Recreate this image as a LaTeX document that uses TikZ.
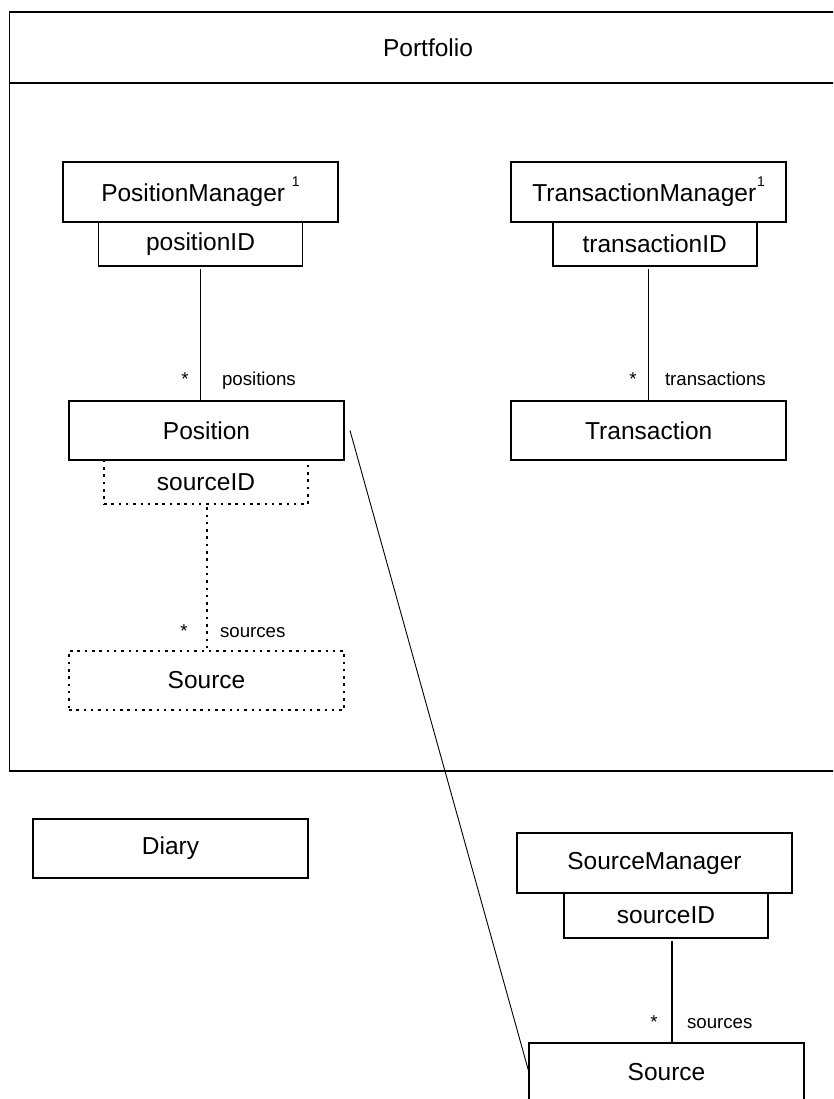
\documentclass[tikz,border=0pt]{standalone}
\usepackage{fontspec}
\setmainfont{Liberation Sans}
\begin{document}
\begin{tikzpicture}[x=1pt,y=-1pt,
  every node/.style={inner sep=0pt, outer sep=0pt},
  box/.style={draw, line width=1.8pt, minimum width=275pt, minimum height=59.5pt,
              font=\fontsize{24.5}{29}\selectfont},
  keybox/.style={box, minimum width=204pt, minimum height=44.5pt},
  dotted box/.style={dash pattern=on 2.5pt off 4.8pt},
  assoc/.style={line width=1.3pt, shorten <=3pt},
  rolename/.style={font=\fontsize{18.7}{22}\selectfont, anchor=base west},
  mult/.style={font=\fontsize{18.7}{22}\selectfont, anchor=base},
]
\newcommand{\one}{{\fontsize{14}{14}\selectfont\raisebox{15pt}{1}}}
\useasboundingbox (0,0) rectangle (833,1099);
\clip (0,0) rectangle (833,1099);

% Portfolio package frame
\node[draw, line width=1.8pt, minimum width=838.5pt, minimum height=759pt] (portfolio) at (428.75,391.5) {};
\draw[line width=1.8pt] (portfolio.west |- 0,83) -- (portfolio.east |- 0,83);
\node[font=\fontsize{24.5}{29}\selectfont] (ptitle) at (428,48) {Portfolio};

% Positions
\node[box]    (pm)  at (200.5,192)   {PositionManager\ \one};
\node[keybox] (pid) at (200.5,244)   {positionID};
\node[box]    (pos) at (206.5,430.5) {Position};
\draw[assoc] (pid.south) -- (pid.south |- pos.north);
\node[mult] (pstar) at (185,385) {*};
\node[rolename] (prole) at (222,385) {positions};

% Embedded sources (dotted)
\node[keybox, dotted box] (psid) at (206,482)   {sourceID};
\node[box, dotted box]    (psrc) at (206.5,680.5) {Source};
\draw[assoc, line width=1.8pt, dotted box] ([xshift=1pt]psid.south) -- ([xshift=1pt]psid.south |- psrc.north);
\node[mult] (psstar) at (184,637) {*};
\node[rolename] (psrole) at (220,637) {sources};

% Transactions
\node[box]    (tm)  at (648.7,192)   {TransactionManager\kern1pt\one};
\node[keybox] (tid) at (654.7,244)   {transactionID};
\node[box]    (tr)  at (648.7,430.5) {Transaction};
\draw[assoc] (tid.south -| tr.north) -- (tr.north);
\node[mult] (tstar) at (633,385) {*};
\node[rolename] (trole) at (665,385) {transactions};

% Diary
\node[box] (diary) at (170.5,848.5) {Diary};

% Sources
\node[box]    (sm)  at (654.5,863)    {SourceManager};
\node[keybox] (sid) at (666,915.5)    {sourceID};
\node[box]    (src) at (666.5,1072.5) {Source};
\draw[assoc] ([xshift=6pt]sid.south) -- ([xshift=6pt]sid.south |- src.north);
\node[mult] (sstar) at (654,1028) {*};
\node[rolename] (srole) at (687,1028) {sources};

% Position to Source link
\draw[line width=0.9pt] ([xshift=6pt]pos.east) -- (src.west);
\end{tikzpicture}
\end{document}
